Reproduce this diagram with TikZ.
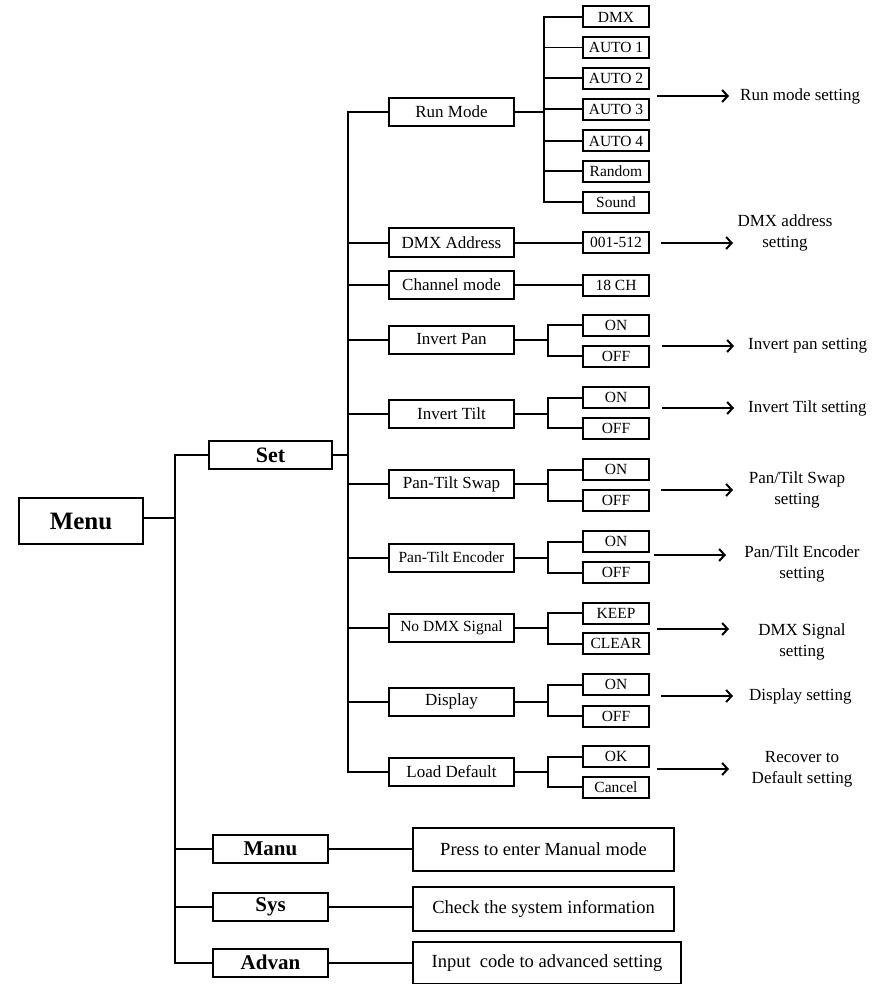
\documentclass[tikz,border=0pt]{standalone}
\usepackage{fontspec}
\setmainfont{Liberation Serif}
\usetikzlibrary{arrows.meta}
\begin{document}
\begin{tikzpicture}[x=1pt,y=-1pt,
  thickln/.style={line width=2pt},
  conn/.style={thickln},
  thinconn/.style={line width=0.9pt},
  arr/.style={line width=2pt,-{Straight Barb[length=5.5pt,width=12pt,line width=2pt]}},
  topbox/.style={draw,thickln,inner sep=0pt,minimum width=124pt,minimum height=46pt,font=\fontsize{25}{28}\selectfont\bfseries},
  mainbox/.style={draw,thickln,inner sep=0pt,minimum width=123pt,minimum height=28pt,font=\fontsize{22}{24}\selectfont\bfseries},
  subbox/.style={draw,thickln,inner sep=0pt,minimum width=115pt,minimum height=28pt,font=\fontsize{21}{24}\selectfont\bfseries},
  itembox/.style={draw,thickln,inner sep=0pt,minimum width=125pt,minimum height=28pt,font=\fontsize{17}{20}\selectfont},
  smallitem/.style={itembox,font=\fontsize{15.5}{18}\selectfont},
  optbox/.style={draw,thickln,inner sep=0pt,minimum width=66pt,minimum height=21pt,font=\fontsize{15.5}{17}\selectfont},
  descbox/.style={draw,thickln,inner sep=0pt,minimum width=261pt,minimum height=43pt,font=\fontsize{18.5}{21}\selectfont},
  lbl/.style={inner sep=0pt,font=\fontsize{17}{21}\selectfont,align=center}
]
\useasboundingbox (0,0) rectangle (886,984);

% top levels
\node[topbox] (menu) at (81,521) {Menu};
\node[mainbox] (set) at (270.5,455) {Set};
\node[subbox] (manu) at (270.5,849) {Manu};
\node[subbox] (sys) at (270.5,906.5) {Sys};
\node[subbox] (advan) at (270.5,962.5) {Advan};
\node[descbox] (manud) at (543.5,849) {Press to enter Manual mode};
\node[descbox,minimum height=44pt] (sysd) at (543.5,909) {Check the system information};
\node[descbox,minimum width=268pt,minimum height=42pt] (advand) at (547,963) {Input\ \ code to advanced setting};

% level 2
\node[itembox] (runmode) at (451.5,112) {Run Mode};
\node[itembox] (dmxaddr) at (451.5,242.5) {DMX Address};
\node[itembox] (chmode) at (451.5,285) {Channel mode};
\node[itembox] (ipan) at (451.5,339.5) {Invert Pan};
\node[itembox] (itilt) at (451.5,413.5) {Invert Tilt};
\node[itembox] (swap) at (451.5,484) {Pan-Tilt Swap};
\node[smallitem] (enc) at (451.5,557.5) {Pan-Tilt Encoder};
\node[smallitem] (nodmx) at (451.5,627.5) {No DMX Signal};
\node[itembox] (disp) at (451.5,701.5) {Display};
\node[itembox] (load) at (451.5,771.5) {Load Default};

% level 3 run mode
\node[optbox] (rdmx) at (616,17) {DMX};
\node[optbox] (ra1) at (616,47.5) {AUTO 1};
\node[optbox] (ra2) at (616,78.5) {AUTO 2};
\node[optbox] (ra3) at (616,109.5) {AUTO 3};
\node[optbox] (ra4) at (616,141) {AUTO 4};
\node[optbox] (rrand) at (616,171.5) {Random};
\node[optbox] (rsound) at (616,202.5) {Sound};

\node[optbox] (addr) at (616,242.5) {001-512};
\node[optbox] (ch) at (616,285) {18 CH};
\node[optbox] (ipon) at (616,325) {ON};
\node[optbox] (ipoff) at (616,356) {OFF};
\node[optbox] (iton) at (616,397.5) {ON};
\node[optbox] (itoff) at (616,428) {OFF};
\node[optbox] (swon) at (616,469.5) {ON};
\node[optbox] (swoff) at (616,500.5) {OFF};
\node[optbox] (enon) at (616,541.5) {ON};
\node[optbox] (enoff) at (616,572.5) {OFF};
\node[optbox] (keep) at (616,613) {KEEP};
\node[optbox] (clear) at (616,643.5) {CLEAR};
\node[optbox] (dson) at (616,684.5) {ON};
\node[optbox] (dsoff) at (616,716) {OFF};
\node[optbox] (ok) at (616,756.5) {OK};
\node[optbox] (cancel) at (616,787) {Cancel};

% trunk coordinates
\coordinate (tr) at (175,455);
\coordinate (st) at (348,112);
\coordinate (rb) at (544,112);
\coordinate (bx) at (548,0);

% main trunk
\draw[conn] (menu.east |- 0,518) -- (tr |- 0,518);
\draw[conn] (set.west) -- (tr) -- (tr |- advan.west) -- (advan.west);
\draw[conn] (manu.west) -- (manu.west -| tr);
\draw[conn] (sys.west) -- (sys.west -| tr);
\draw[conn] (manu.east) -- (manu.east -| manud.west);
\draw[conn] (sys.east) -- (sys.east -| sysd.west);
\draw[conn] (advan.east) -- (advan.east -| advand.west);

% second trunk
\draw[conn] (set.east) -- (set.east -| st);
\draw[conn] (runmode.west) -- (st) -- (st |- load.west) -- (load.west);
\foreach \n in {dmxaddr,chmode,ipan,itilt,swap,enc,nodmx,disp}
  \draw[conn] (\n.west) -- (\n.west -| st);

% run mode branch
\draw[conn] (runmode.east) -- (rb);
\draw[conn] (rdmx.west) -- (rdmx.west -| rb) -- (rb |- rsound.west) -- (rsound.west);
\draw[thinconn] (ra1.west) -- (ra1.west -| rb);
\foreach \n in {ra2,ra3,ra4,rrand}
  \draw[conn] (\n.west) -- (\n.west -| rb);

% straight links
\draw[conn] (dmxaddr.east) -- (addr.west);
\draw[conn] (chmode.east) -- (ch.west);

% two-option brackets
\foreach \p/\a/\b in {ipan/ipon/ipoff,itilt/iton/itoff,swap/swon/swoff,enc/enon/enoff,nodmx/keep/clear,disp/dson/dsoff,load/ok/cancel}{
  \draw[conn] (\p.east) -- (\p.east -| bx);
  \draw[conn] (\a.west) -| (bx |- \b.west) -- (\b.west);
}

% arrows and labels
\coordinate (a1s) at (657,96);   \coordinate (a1e) at (729,96);
\node[lbl,anchor=west] (l1) at (740,96) {Run mode setting};
\draw[arr] (a1s) -- (a1e);

\coordinate (a2s) at (661,243);  \coordinate (a2e) at (733,243);
\node[lbl] (l2) at (785,233) {DMX address\\setting};
\draw[arr] (a2s) -- (a2e);

\coordinate (a3s) at (662,346);  \coordinate (a3e) at (734,346);
\node[lbl,anchor=west] (l3) at (748,346) {Invert pan setting};
\draw[arr] (a3s) -- (a3e);

\coordinate (a4s) at (662,408);  \coordinate (a4e) at (734,408);
\node[lbl,anchor=west] (l4) at (748,408) {Invert Tilt setting};
\draw[arr] (a4s) -- (a4e);

\coordinate (a5s) at (661,490);  \coordinate (a5e) at (733,490);
\node[lbl] (l5) at (797,490) {Pan/Tilt Swap\\setting};
\draw[arr] (a5s) -- (a5e);

\coordinate (a6s) at (654,555);  \coordinate (a6e) at (726,555);
\node[lbl] (l6) at (802,564) {Pan/Tilt Encoder\\setting};
\draw[arr] (a6s) -- (a6e);

\coordinate (a7s) at (657,629);  \coordinate (a7e) at (729,629);
\node[lbl] (l7) at (802,642) {DMX Signal\\setting};
\draw[arr] (a7s) -- (a7e);

\coordinate (a8s) at (661,696);  \coordinate (a8e) at (733,696);
\node[lbl,anchor=west] (l8) at (749,696) {Display setting};
\draw[arr] (a8s) -- (a8e);

\coordinate (a9s) at (657,769);  \coordinate (a9e) at (729,769);
\node[lbl] (l9) at (802,769) {Recover to\\Default setting};
\draw[arr] (a9s) -- (a9e);
\end{tikzpicture}
\end{document}
